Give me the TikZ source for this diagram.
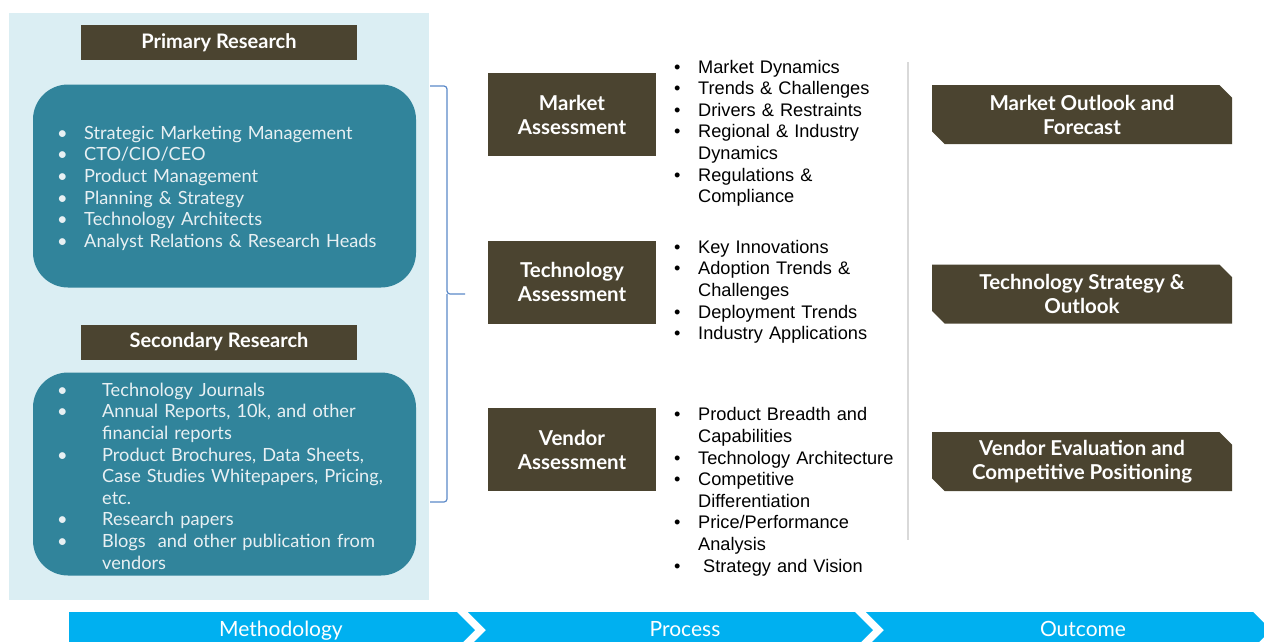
\documentclass[tikz,border=0pt]{standalone}
\usepackage{fontspec}
\usepackage{enumitem}
\setmainfont{Liberation Sans}
\newfontfamily\latofont{Lato}
\usetikzlibrary{shapes.misc}
\definecolor{boxbrown}{RGB}{75,68,48}
\definecolor{tealbox}{RGB}{49,132,155}
\definecolor{panelblue}{RGB}{219,238,243}
\definecolor{barblue}{RGB}{0,176,240}
\definecolor{bracecol}{RGB}{91,137,200}
\definecolor{sepgray}{RGB}{217,217,217}
\definecolor{softwhite}{RGB}{232,240,243}
\setlist[itemize]{nosep, leftmargin=24pt, labelwidth=8pt, labelsep=16pt, align=left, label=\textbullet}

\begin{document}
\begin{tikzpicture}[x = 1pt, y = -1pt]
\tikzstyle{HeadStyle}=[
fill = boxbrown,
text = white,
minimum width = 276pt,
minimum height = 35pt,
inner sep = 0pt,
font = \latofont\bfseries\fontsize{20}{24}\selectfont]
\tikzstyle{PanelStyle}=[
fill = tealbox,
rounded corners = 35pt,
minimum width = 383pt,
minimum height = 203pt,
inner sep = 0pt]
\tikzstyle{SourceText}=[
text = softwhite,
text width = 360pt,
inner sep = 0pt,
font = \latofont\fontsize{18.2}{21.6}\selectfont]
\tikzstyle{StepStyle}=[
fill = boxbrown,
text = white,
align = center,
minimum width = 168pt,
minimum height = 83pt,
inner sep = 0pt,
font = \latofont\bfseries\fontsize{20.5}{24}\selectfont]
\tikzstyle{PointText}=[
text width = 240pt,
inner sep = 0pt,
font = \fontsize{18.2}{21.6}\selectfont]
\tikzstyle{ResultStyle}=[
chamfered rectangle,
chamfered rectangle corners = {north east, south west},
chamfered rectangle xsep = 9pt,
fill = boxbrown,
text = white,
align = center,
minimum width = 300pt,
minimum height = 59pt,
inner sep = 0pt,
font = \latofont\bfseries\fontsize{20.5}{24}\selectfont]
\tikzstyle{BarText}=[
text = white,
text height = 15pt,
text depth = 4pt,
inner sep = 0pt,
font = \latofont\fontsize{21}{24}\selectfont]
\useasboundingbox (0,0) rectangle (1264,641);
% methodology
\fill[panelblue] (9,13) rectangle (429,600);
\node[HeadStyle] (prim) at (219,42.5) {Primary Research};
\node[PanelStyle] (primBox) at (224.5,186) {};
\node[SourceText, anchor = west] (primList) at (57,184) {
\begin{itemize}[leftmargin=27pt, labelwidth=14pt, labelsep=13pt]
\item Strategic Marketing Management
\item CTO/CIO/CEO
\item Product Management
\item Planning \& Strategy
\item Technology Architects
\item Analyst Relations \& Research Heads
\end{itemize}};
\node[HeadStyle] (sec) at (219,342) {Secondary Research};
\node[PanelStyle] (secBox) at (224.5,474) {};
\node[SourceText, anchor = west] (secList) at (57,472) {
\begin{itemize}[leftmargin=45pt, labelwidth=14pt, labelsep=31pt]
\item Technology Journals
\item Annual Reports, 10k, and other\newline financial reports
\item Product Brochures, Data Sheets,\newline Case Studies Whitepapers, Pricing,\newline etc.
\item Research papers
\item Blogs~ and other publication from\newline vendors
\end{itemize}};
% brace
\coordinate (braceTop) at (430,86);
\coordinate (braceTip) at (465,294);
\coordinate (braceBot) at (430,502);
\draw[bracecol, line width = 1.2pt, rounded corners = 3pt] (braceTop) -| (447,294) -- (braceTip);
\draw[bracecol, line width = 1.2pt, rounded corners = 3pt] (braceBot) -| (447,294);
% process
\node[StepStyle] (mkt) at (572,114.5) {Market\\Assessment};
\node[StepStyle] (tech) at (572,282) {Technology\\Assessment};
\node[StepStyle] (vend) at (572,449.5) {Vendor\\Assessment};
\node[PointText, anchor = west] (mktList) at (674,129) {
\begin{itemize}
\item Market Dynamics
\item Trends \& Challenges
\item Drivers \& Restraints
\item Regional \& Industry\newline Dynamics
\item Regulations \&\newline Compliance
\end{itemize}};
\node[PointText, anchor = west] (techList) at (674,287.5) {
\begin{itemize}
\item Key Innovations
\item Adoption Trends \&\newline Challenges
\item Deployment Trends
\item Industry Applications
\end{itemize}};
\node[PointText, anchor = west] (vendList) at (674,487.5) {
\begin{itemize}
\item Product Breadth and\newline Capabilities
\item Technology Architecture
\item Competitive\newline Differentiation
\item Price/Performance\newline Analysis
\item \hspace{5pt}Strategy and Vision
\end{itemize}};
\coordinate (sepTop) at (908,62);
\coordinate (sepBot) at (908,540);
\draw[sepgray, line width = 1.5pt] (sepTop) -- (sepBot);
% outcome
\node[ResultStyle] (mktOut) at (1082,114.5) {Market Outlook and\\Forecast};
\node[ResultStyle] (techOut) at (1082,294) {Technology Strategy \&\\Outlook};
\node[ResultStyle] (vendOut) at (1082,461.5) {Vendor Evaluation and\\Competitive Positioning};
% bottom bar
\fill[barblue] (69,612) -- (457,612) -- (475,630) -- (457,648) -- (69,648) -- cycle;
\fill[barblue] (468,612) -- (855,612) -- (873,630) -- (855,648) -- (468,648) -- (486,630) -- cycle;
\fill[barblue] (866,612) -- (1253,612) -- (1271,630) -- (1253,648) -- (866,648) -- (884,630) -- cycle;
\node[BarText] (meth) at (281,631) {Methodology};
\node[BarText] (proc) at (685,631) {Process};
\node[BarText] (outc) at (1083,631) {Outcome};
\end{tikzpicture}
\end{document}
